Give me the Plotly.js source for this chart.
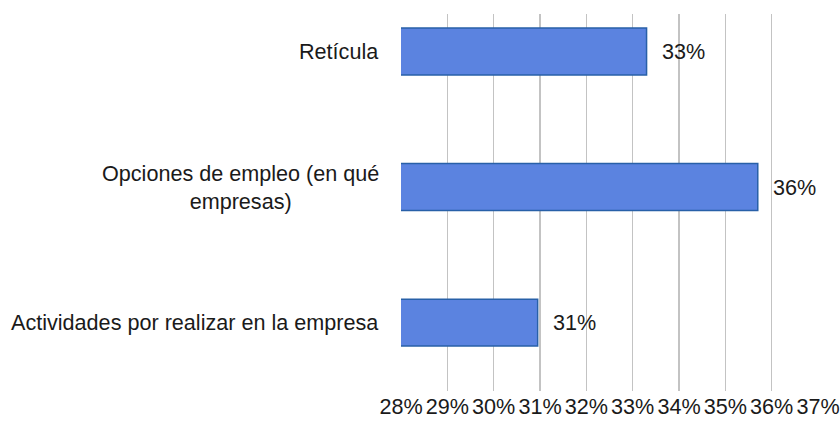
<!DOCTYPE html>
<html>
<head>
<meta charset="utf-8">
<script src="https://cdn.plot.ly/plotly-3.0.1.min.js"></script>
<style>html,body{margin:0;padding:0;background:#fff;}#chart{width:840px;height:424px;}</style>
</head>
<body>
<div id="chart"></div>
<script>
const categories = ["Retícula", "Opciones de empleo (en qué<br>empresas)", "Actividades por realizar en la empresa"];
const values = [33.3, 35.7, 30.95];
const dataLabels = ["33%", "36%", "31%"];
const xTicks = [28, 29, 30, 31, 32, 33, 34, 35, 36, 37];
const xTickLabels = ["28%", "29%", "30%", "31%", "32%", "33%", "34%", "35%", "36%", "37%"];

const FONT = "Liberation Sans, Arial, sans-serif";
const FS = 21.6;

const trace = {
  type: "bar",
  orientation: "h",
  x: values,
  y: categories,
  width: 0.346,
  marker: {color: "rgb(91,131,224)", line: {color: "rgb(40,96,168)", width: 1.5}},
  hoverinfo: "none"
};

const annotations = [];
categories.forEach((c, i) => {
  annotations.push({
    xref: "paper", yref: "y", x: 0, y: c, xanchor: "right", yanchor: "middle",
    xshift: -20, text: c, showarrow: false, align: "center",
    font: {family: FONT, size: FS, color: "#1a1a1a"}
  });
  annotations.push({
    xref: "x", yref: "y", x: values[i], y: c, xanchor: "left", yanchor: "middle",
    xshift: 13, text: dataLabels[i], showarrow: false,
    font: {family: FONT, size: FS, color: "#1a1a1a"}
  });
});

const layout = {
  width: 840, height: 424,
  margin: {l: 401, r: 22, t: 14, b: 33, pad: 0},
  paper_bgcolor: "#fff", plot_bgcolor: "#fff",
  showlegend: false,
  font: {family: FONT, size: FS, color: "#1a1a1a"},
  xaxis: {
    range: [28, 37], tickvals: xTicks, ticktext: xTickLabels,
    showgrid: true, gridcolor: "#c3c3c3", gridwidth: 1.5,
    zeroline: false, showline: false,
    ticks: "", 
    tickfont: {family: FONT, size: FS, color: "#1a1a1a"}
  },
  yaxis: {
    type: "category", categoryorder: "array", categoryarray: categories,
    range: [2.504, -0.276],
    showgrid: false, zeroline: false, showline: false, showticklabels: false
  },
  annotations: annotations
};

Plotly.newPlot("chart", [trace], layout, {staticPlot: true, displayModeBar: false});
</script>
</body>
</html>
